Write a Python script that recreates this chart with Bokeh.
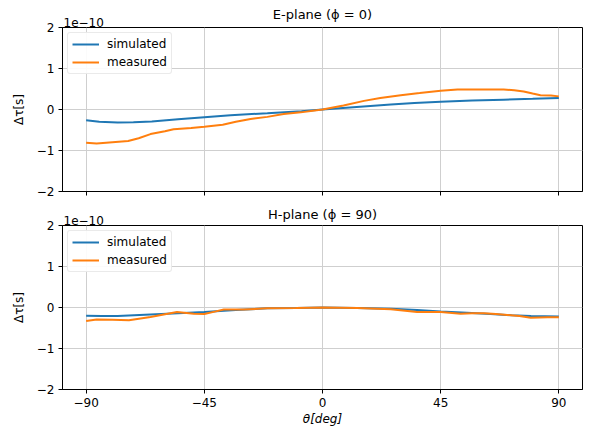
from bokeh.plotting import figure
from bokeh.layouts import column
from bokeh.models import Title, Legend, LegendItem, FixedTicker, Range1d
from bokeh.embed import file_html
from bokeh.resources import INLINE

# E-plane (phi = 0), values in units of 1e-10 s
e_sim_theta = [-90, -85, -78, -72, -65, -55, -45, -35, -21, -8, 0, 13, 26, 35, 45, 57, 69, 80, 90]
e_sim_val = [-0.26, -0.30, -0.32, -0.31, -0.29, -0.24, -0.19, -0.14, -0.09, -0.04, 0.0, 0.06, 0.12, 0.16, 0.19, 0.22, 0.24, 0.26, 0.28]
e_meas_theta = [-90, -86, -80, -74, -70, -65.5, -60, -56.7, -50, -45, -38, -33, -27.4, -21, -14.8, -8.3, 0, 8, 15.8, 22, 29.8, 37, 45, 51.4, 60, 69, 73, 76.6, 80, 83, 87, 90]
e_meas_val = [-0.81, -0.83, -0.80, -0.77, -0.70, -0.60, -0.53, -0.48, -0.45, -0.42, -0.37, -0.30, -0.23, -0.18, -0.11, -0.07, 0.0, 0.10, 0.21, 0.28, 0.35, 0.40, 0.46, 0.49, 0.49, 0.49, 0.47, 0.44, 0.39, 0.35, 0.34, 0.32]

# H-plane (phi = 90)
h_sim_theta = [-90, -84, -78, -65.5, -55, -45, -33, -21, -10, 0, 13, 26, 36, 45, 55, 64, 72, 79.4, 90]
h_sim_val = [-0.20, -0.21, -0.21, -0.17, -0.14, -0.11, -0.06, -0.02, -0.01, 0.0, -0.01, -0.03, -0.06, -0.10, -0.13, -0.16, -0.19, -0.21, -0.22]
h_meas_theta = [-90, -86, -80, -73.7, -65.5, -55.4, -49, -45, -41, -37.6, -30, -21, -10, 0, 13.3, 26, 36, 45, 52.6, 57, 61.5, 66, 70.4, 75, 79.3, 85.7, 90]
h_meas_val = [-0.33, -0.29, -0.30, -0.31, -0.23, -0.11, -0.15, -0.16, -0.10, -0.05, -0.05, -0.02, -0.01, 0.0, -0.01, -0.04, -0.11, -0.11, -0.15, -0.14, -0.14, -0.16, -0.18, -0.21, -0.25, -0.24, -0.24]

x_ticks = [-90, -45, 0, 45, 90]
y_ticks = [-2, -1, 0, 1, 2]
x_tick_labels = {-90: "\u221290", -45: "\u221245", 0: "0", 45: "45", 90: "90"}
y_tick_labels = {-2: "\u22122", -1: "\u22121", 0: "0", 1: "1", 2: "2"}
scale_text = "1e\u221210"

BLUE = "#1f77b4"
ORANGE = "#ff7f0e"
FONT = "DejaVu Sans"


def make_panel(title, sim_t, sim_v, meas_t, meas_v, border_top, border_bottom, show_xlabels, title_standoff):
    p = figure(frame_width=520, frame_height=164, output_backend="svg", toolbar_location=None,
               x_range=Range1d(-99, 99), y_range=Range1d(-2, 2),
               min_border_left=62, min_border_right=7, min_border_top=border_top,
               min_border_bottom=border_bottom)
    # exponent text, nearest to the frame, left aligned
    sc = Title(text=scale_text, align="left", text_font=FONT, text_font_size="12px",
               text_font_style="normal", text_color="black", standoff=2, offset=1)
    p.add_layout(sc, "above")

    p.title.text = title
    p.title.align = "center"
    p.title.text_font = FONT
    p.title.text_font_style = "normal"
    p.title.text_font_size = "13px"
    p.title.text_color = "black"
    try:
        p.title.standoff = title_standoff
    except Exception:
        p.title.standoff = 0
    p.outline_line_color = "black"
    p.outline_line_width = 1
    p.background_fill_color = "white"
    p.border_fill_color = "white"

    r1 = p.line(sim_t, sim_v, line_color=BLUE, line_width=2)
    r2 = p.line(meas_t, meas_v, line_color=ORANGE, line_width=2)

    for ax in (p.xaxis[0], p.yaxis[0]):
        ax.major_tick_in = 0
        ax.major_tick_out = 4
        ax.minor_tick_in = 0
        ax.minor_tick_out = 0
        ax.axis_line_color = "black"
        ax.major_tick_line_color = "black"
        ax.major_label_text_font = FONT
        ax.major_label_text_font_size = "12px"
        ax.major_label_text_color = "black"
        ax.axis_label_text_font = FONT
        ax.axis_label_text_font_size = "12px"
        ax.axis_label_text_color = "black"
    p.xaxis.ticker = FixedTicker(ticks=x_ticks)
    p.yaxis.ticker = FixedTicker(ticks=y_ticks)
    p.yaxis.major_label_overrides = y_tick_labels
    p.yaxis.axis_label = "\u0394\u03c4[s]"
    p.yaxis.axis_label_text_font_style = "normal"
    p.yaxis.axis_label_standoff = 8
    p.yaxis.major_label_standoff = 4
    p.xaxis.major_label_standoff = 4
    if show_xlabels:
        p.xaxis.major_label_overrides = x_tick_labels
        p.xaxis.axis_label = "\u03b8[deg]"
        p.xaxis.axis_label_text_font_style = "italic"
        p.xaxis.axis_label_standoff = 2
    else:
        p.xaxis.major_label_overrides = {t: "" for t in x_ticks}

    p.xgrid.ticker = FixedTicker(ticks=x_ticks)
    p.ygrid.ticker = FixedTicker(ticks=y_ticks)
    p.grid.grid_line_color = "#cfcfcf"
    p.grid.grid_line_width = 1

    legend = Legend(items=[LegendItem(label="simulated", renderers=[r1]),
                           LegendItem(label="measured", renderers=[r2])],
                    location="top_left")
    legend.label_text_font = FONT
    legend.label_text_font_size = "12px"
    legend.label_text_color = "black"
    legend.glyph_width = 27
    legend.glyph_height = 14
    legend.label_height = 14
    legend.label_standoff = 8
    legend.spacing = 4
    legend.padding = 4
    legend.margin = 5
    legend.border_line_color = "#d5d5d5"
    legend.border_line_width = 1
    legend.background_fill_alpha = 0.9
    if "border_radius" in Legend.properties():
        legend.border_radius = 3
    p.add_layout(legend)
    return p


p1 = make_panel("E-plane (\u03d5 = 0)", e_sim_theta, e_sim_val, e_meas_theta, e_meas_val,
                27, 17, False, -15)
p2 = make_panel("H-plane (\u03d5 = 90)", h_sim_theta, h_sim_val, h_meas_theta, h_meas_val,
                17, 43, True, -18)

layout = column(p1, p2, spacing=0)
open("out.html", "w").write(file_html(layout, INLINE))
